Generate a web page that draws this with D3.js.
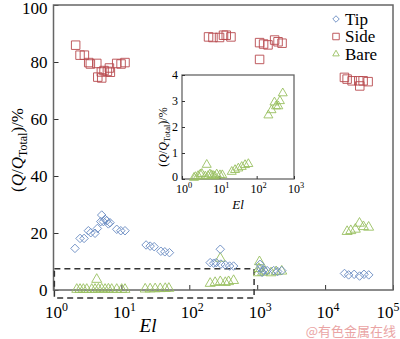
<!DOCTYPE html>
<html>
<head>
<meta charset="utf-8">
<script src="https://cdn.jsdelivr.net/npm/d3@7"></script>
<style>
  body { margin: 0; background: #fff; }
  svg { display: block; font-family: "Liberation Serif", "Times New Roman", serif; }
</style>
</head>
<body>
<div id="chart"></div>
<script>
// 数据：[El, Q/Q_Total %]
const tipData = [
  [2.07, 14.6], [2.46, 18.1], [2.82, 18.1], [3.26, 20.8], [3.54, 20.1], [4.09, 19.9], [4.43, 21.6],
  [5.13, 26.3], [4.97, 24.0], [5.43, 24.0], [5.75, 24.8], [6.09, 24.3], [6.43, 23.2], [6.81, 23.6],
  [8.54, 21.3], [9.79, 20.8], [11.3, 20.8],
  [23.1, 15.8], [26.5, 15.4], [30.4, 15.2], [38.1, 13.6], [43.6, 13.4], [51, 13.1],
  [286, 14.3], [203, 9.6], [229, 9.4], [249, 9.6], [292, 9.1], [339, 8.8], [392, 8.4], [449, 8.4],
  [1100, 9.0], [1120, 7.6], [1250, 7.0], [1400, 6.8], [1180, 6.2], [1750, 6.8], [2000, 6.5], [2300, 6.8],
  [19300, 5.8], [22200, 5.3], [26800, 5.5], [32200, 4.9], [37400, 5.5], [43900, 5.3]
];
const sideData = [
  [2.12, 85.9], [2.46, 82.4], [2.85, 82.4], [3.30, 79.8], [3.49, 79.3], [4.34, 79.5], [4.49, 74.7],
  [5.13, 74.4], [5.07, 76.5], [5.55, 77.0], [6.22, 76.7], [6.66, 77.9], [6.88, 76.4],
  [8.53, 79.5], [9.89, 79.3], [11.3, 79.8],
  [192, 88.8], [223, 88.6], [279, 88.6], [319, 89.4], [350, 89.4], [411, 88.8],
  [1084, 86.8], [1242, 86.3], [1443, 86.0], [1806, 87.7], [2028, 87.1], [2323, 86.6], [1084, 80.9],
  [19260, 74.6], [21100, 74.0], [25000, 73.4], [31300, 73.4], [32400, 71.6], [36300, 73.4], [43000, 73.1]
];
const bareData = [
  [2.2, 0.2], [2.46, 0.2], [2.75, 0.2], [3.09, 0.2], [3.66, 0.2], [4.09, 0.2], [4.33, 3.7], [4.58, 0.3],
  [5.13, 0.3], [5.75, 0.2], [6.43, 0.3], [7.2, 0.2], [8.54, 0.2], [10.1, 0.2], [11.3, 0.2],
  [22.4, 0.3], [26.5, 0.35], [31.4, 0.4], [37.3, 0.45], [44.2, 0.5], [50, 0.55],
  [203, 2.3], [240, 2.6], [286, 2.9], [339, 2.6], [379, 2.9], [449, 3.3], [286, 11.1],
  [1080, 9.9], [1060, 7.5], [1040, 6.0], [1200, 6.2], [1300, 6.6], [1600, 6.0], [1900, 6.4], [2300, 6.6],
  [21100, 20.5], [23900, 20.8], [27900, 21.3], [32100, 23.4], [36700, 22.2], [43800, 22.0]
];
// 插图中的 Bare 数据
const bareInset = [
  [2.1, 0.05], [2.3, 0.08], [2.7, 0.12], [3.1, 0.18], [3.4, 0.2], [4.6, 0.55], [4.2, 0.1], [5.0, 0.12],
  [5.6, 0.18], [6.2, 0.15], [6.9, 0.12], [7.6, 0.1], [8.5, 0.18], [10.4, 0.15], [12, 0.15],
  [21.5, 0.28], [26.4, 0.35], [32.3, 0.41], [39.8, 0.47], [48.9, 0.54], [59.9, 0.58],
  [206, 2.45], [250, 2.65], [300, 2.95], [330, 2.8], [380, 2.8], [420, 3.0], [500, 3.3]
];
const xTicks = [1, 10, 100, 1000, 10000, 100000];
const yTicks = [0, 20, 40, 60, 80, 100];
const insetXTicks = [1, 10, 100, 1000];
const insetYTicks = [0, 1, 2, 3, 4];
const seriesNames = ["Tip", "Side", "Bare"];

const colors = { Tip: "#6f90c4", Side: "#b84a4e", Bare: "#98c060" };
const axisColor = "#666";

const svg = d3.select("#chart").append("svg")
  .attr("width", 400).attr("height", 339);

// 比例尺
const x = d3.scaleLog().domain([1, 1e5]).range([53.5, 393]);
const y = d3.scaleLinear().domain([0, 100]).range([290, 5]);

// 标记形状
function markerPath(name, s) {
  if (name === "Side") return d3.symbol(d3.symbolSquare, s * s)();
  if (name === "Tip") return d3.symbol(d3.symbolSquare, s * s / 2)();
  return d3.symbol(d3.symbolTriangle, s * s * 0.433)();
}
function drawMarkers(g, data, name, sx, sy, s) {
  g.selectAll(null).data(data).enter().append("path")
    .attr("d", markerPath(name, s))
    .attr("transform", d => `translate(${sx(d[0])},${sy(d[1])})` + (name === "Tip" ? " rotate(45)" : ""))
    .attr("fill", "none")
    .attr("stroke", colors[name])
    .attr("stroke-width", 0.9);
}

// 主图坐标轴
svg.append("g")
  .attr("transform", `translate(0,${y(0)})`)
  .call(d3.axisBottom(x).tickValues(xTicks).tickSize(-5).tickFormat(""))
  .call(g => g.select(".domain").remove())
  .call(g => g.selectAll("line").attr("stroke", "#333"));
svg.append("g")
  .attr("transform", `translate(${x(1)},0)`)
  .call(d3.axisLeft(y).tickValues(yTicks).tickSize(-5).tickFormat(""))
  .call(g => g.select(".domain").remove())
  .call(g => g.selectAll("line").attr("stroke", "#333"));

svg.append("rect")
  .attr("x", x(1)).attr("y", y(100))
  .attr("width", x(1e5) - x(1)).attr("height", y(0) - y(100))
  .attr("fill", "none").attr("stroke", axisColor).attr("stroke-width", 1.5);

// 刻度标签
yTicks.forEach(v => {
  svg.append("text").attr("x", x(1) - 6).attr("y", Math.max(y(v) + 6, 14))
    .attr("text-anchor", "end").attr("font-size", 17).text(v);
});
function powLabel(g, px, py, e, fs) {
  const t = g.append("text").attr("x", px).attr("y", py)
    .attr("text-anchor", "middle").attr("font-size", fs);
  t.append("tspan").text("10");
  t.append("tspan").attr("dy", -fs * 0.4).attr("font-size", fs * 0.7).text(e);
}
xTicks.forEach(v => powLabel(svg, Math.min(x(v) + 3, 388), 318, Math.round(Math.log10(v)), 17));

// 轴标题
svg.append("text").attr("x", 148).attr("y", 332)
  .attr("text-anchor", "middle").attr("font-size", 19).attr("font-style", "italic").text("El");
const yl = svg.append("text").attr("transform", "translate(23,150) rotate(-90)")
  .attr("text-anchor", "middle").attr("font-size", 17);
yl.append("tspan").text("(");
yl.append("tspan").attr("font-style", "italic").text("Q");
yl.append("tspan").text("/");
yl.append("tspan").attr("font-style", "italic").text("Q");
yl.append("tspan").attr("font-size", 12).attr("dy", 4).text("Total");
yl.append("tspan").attr("dy", -4).text(")/%");

// 虚线框
svg.append("rect")
  .attr("x", x(1.03)).attr("y", y(7.5))
  .attr("width", x(900) - x(1.03)).attr("height", y(-2.8) - y(7.5))
  .attr("fill", "none").attr("stroke", "#333").attr("stroke-width", 1.5)
  .attr("stroke-dasharray", "6,4");

// 数据点
const pts = svg.append("g");
drawMarkers(pts, bareData, "Bare", x, y, 10);
drawMarkers(pts, tipData, "Tip", x, y, 8.5);
drawMarkers(pts, sideData, "Side", x, y, 8.5);

// 图例
const lg = svg.append("g");
seriesNames.forEach((name, i) => {
  const ly = 19 + i * 17.5;
  lg.append("path").attr("d", markerPath(name, 6.5))
    .attr("transform", `translate(336,${ly})` + (name === "Tip" ? " rotate(45)" : ""))
    .attr("fill", "none").attr("stroke", colors[name]).attr("stroke-width", 0.9);
  lg.append("text").attr("x", 345).attr("y", ly + 5.5).attr("font-size", 17).text(name);
});

// 插图
const ix = d3.scaleLog().domain([1, 1000]).range([182, 294]);
const iy = d3.scaleLinear().domain([0, 4]).range([179, 75]);
const inset = svg.append("g");
inset.append("rect")
  .attr("x", ix(1)).attr("y", iy(4))
  .attr("width", ix(1000) - ix(1)).attr("height", iy(0) - iy(4))
  .attr("fill", "#fff").attr("stroke", axisColor).attr("stroke-width", 1.3);
inset.append("g")
  .attr("transform", `translate(0,${iy(0)})`)
  .call(d3.axisBottom(ix).tickValues(insetXTicks).tickSize(-3).tickFormat(""))
  .call(g => g.select(".domain").remove())
  .call(g => g.selectAll("line").attr("stroke", "#333"));
inset.append("g")
  .attr("transform", `translate(${ix(1)},0)`)
  .call(d3.axisLeft(iy).tickValues(insetYTicks).tickSize(-3).tickFormat(""))
  .call(g => g.select(".domain").remove())
  .call(g => g.selectAll("line").attr("stroke", "#333"));
insetYTicks.forEach(v => {
  inset.append("text").attr("x", ix(1) - 4).attr("y", iy(v) + (v === 0 ? 2 : 4))
    .attr("text-anchor", "end").attr("font-size", 12).text(v);
});
insetXTicks.forEach(v => powLabel(inset, ix(v) + 2, 193, Math.round(Math.log10(v)), 12));
inset.append("text").attr("x", 238).attr("y", 209)
  .attr("text-anchor", "middle").attr("font-size", 13).attr("font-style", "italic").text("El");
const iyl = inset.append("text").attr("transform", "translate(167,137) rotate(-90)")
  .attr("text-anchor", "middle").attr("font-size", 12);
iyl.append("tspan").text("(");
iyl.append("tspan").attr("font-style", "italic").text("Q");
iyl.append("tspan").text("/");
iyl.append("tspan").attr("font-style", "italic").text("Q");
iyl.append("tspan").attr("font-size", 8.5).attr("dy", 3).text("Total");
iyl.append("tspan").attr("dy", -3).text(")/%");
drawMarkers(inset.append("g"), bareInset, "Bare", ix, iy, 9);

// 水印
svg.append("text").attr("x", 396).attr("y", 336).attr("text-anchor", "end")
  .attr("font-family", "Noto Sans CJK SC").attr("font-size", 13)
  .attr("fill", "#eaa4a4").text("@有色金属在线");
</script>
</body>
</html>
